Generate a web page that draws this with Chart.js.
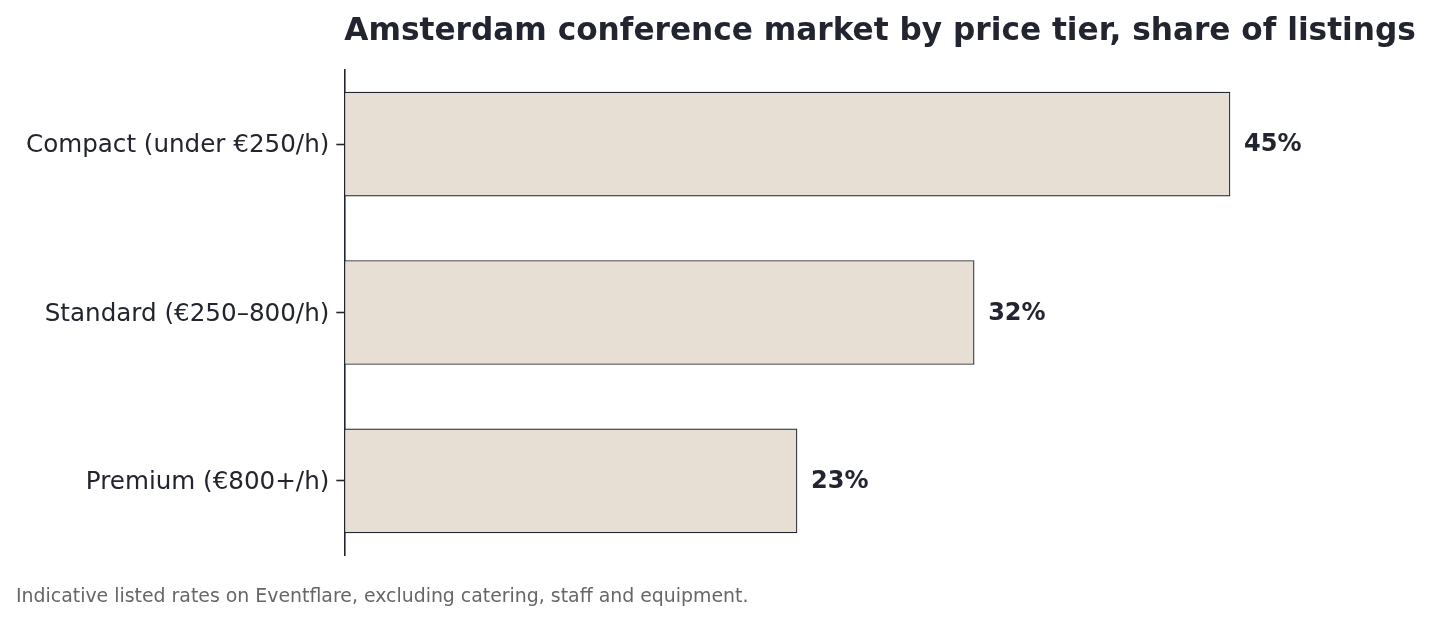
<!DOCTYPE html>
<html>
<head>
<meta charset="utf-8">
<script src="https://cdn.jsdelivr.net/npm/chart.js@4"></script>
<style>
  html, body { margin: 0; padding: 0; background: #fff; }
  #wrap { position: relative; width: 1431px; height: 622px; }
  #caption {
    position: absolute; left: 16px; top: 584px;
    font-family: "DejaVu Sans", sans-serif; font-size: 18.9px; color: #666;
  }
</style>
</head>
<body>
<div id="wrap">
  <canvas id="chartCanvas" width="1431" height="622"></canvas>
  <div id="caption">Indicative listed rates on Eventflare, excluding catering, staff and equipment.</div>
</div>
<script>
const categories = ['Compact (under €250/h)', 'Standard (€250–800/h)', 'Premium (€800+/h)'];
const shares = [45, 32, 23];
const titleText = 'Amsterdam conference market by price tier, share of listings';

const ink = '#22252f';

// title over the plot area, left edge on the axis line
const titlePlugin = {
    id: 'plotTitle',
    afterDraw(chart) {
        const ctx = chart.ctx;
        ctx.save();
        ctx.font = 'bold 31.2px "DejaVu Sans"';
        ctx.fillStyle = ink;
        ctx.textBaseline = 'alphabetic';
        ctx.textAlign = 'left';
        ctx.fillText(titleText, chart.chartArea.left, 40);
        ctx.restore();
    }
};

// value labels at the end of each bar
const valueLabels = {
    id: 'valueLabels',
    afterDatasetsDraw(chart) {
        const ctx = chart.ctx;
        const meta = chart.getDatasetMeta(0);
        ctx.save();
        ctx.font = 'bold 24px "DejaVu Sans"';
        ctx.fillStyle = ink;
        ctx.textBaseline = 'middle';
        ctx.textAlign = 'left';
        meta.data.forEach((bar, i) => {
            ctx.fillText(shares[i] + '%', bar.x + 14, bar.y + 1);
        });
        ctx.restore();
    }
};

new Chart(document.getElementById('chartCanvas').getContext('2d'), {
    type: 'bar',
    data: {
        datasets: [{
            data: shares.map((v, i) => ({ x: v, y: i })),
            backgroundColor: '#e7ded4',
            borderColor: ink,
            borderWidth: 1.2,
            borderSkipped: false,
            barThickness: 104
        }]
    },
    options: {
        indexAxis: 'y',
        responsive: false,
        animation: false,
        layout: { padding: { top: 70, bottom: 67, right: 16, left: 19 } },
        scales: {
            x: {
                type: 'linear',
                display: false,
                min: 0,
                max: 54.4
            },
            y: {
                type: 'linear',
                reverse: true,
                offset: false,
                min: -0.44,
                max: 2.44,
                afterBuildTicks(axis) {
                    axis.ticks = categories.map((c, i) => ({ value: i }));
                },
                ticks: {
                    callback: (v) => categories[v],
                    color: ink,
                    padding: 7,
                    labelOffset: 2,
                    font: { family: 'DejaVu Sans', size: 24.6 }
                },
                grid: {
                    offset: false,
                    drawOnChartArea: false,
                    tickLength: 8,
                    tickWidth: 1.6,
                    tickColor: ink
                },
                border: { display: true, color: ink, width: 1.6 }
            }
        },
        plugins: {
            legend: { display: false },
            tooltip: { enabled: false }
        }
    },
    plugins: [titlePlugin, valueLabels]
});
</script>
</body>
</html>
